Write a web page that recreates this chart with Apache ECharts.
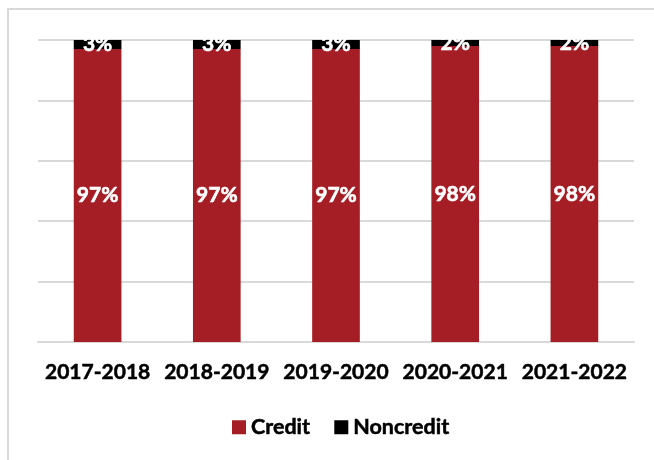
<!DOCTYPE html>
<html>
<head>
<meta charset="utf-8">
<script src="https://cdn.jsdelivr.net/npm/echarts@6/dist/echarts.min.js"></script>
<style>
  html, body { margin: 0; padding: 0; background: #fff; }
  #chart { width: 654px; height: 460px; }
</style>
</head>
<body>
<div id="chart"></div>
<script>
// Share of enrollment by program type, per academic year
const years = ['2017-2018', '2018-2019', '2019-2020', '2020-2021', '2021-2022'];
const credit = [97, 97, 97, 98, 98];
const noncredit = [3, 3, 3, 2, 2];

const FONT = 'Lato';
const RED = '#A61E25';

const chart = echarts.init(document.getElementById('chart'), null, { renderer: 'canvas' });

// a thin same-colour outline gives the bold face a little extra weight
const labelStyle = {
  show: true,
  position: 'inside',
  color: '#fff',
  fontFamily: FONT,
  fontWeight: 'bold',
  fontSize: 21,
  textBorderColor: '#fff',
  textBorderWidth: 0.6,
  formatter: p => p.value + '%'
};

chart.setOption({
  animation: false,
  backgroundColor: '#fff',
  graphic: [{
    type: 'rect',
    shape: { x: 8, y: 9, width: 700, height: 520 },
    style: { fill: 'none', stroke: '#d9d9d9', lineWidth: 2 },
    silent: true,
    z: -1
  }],
  grid: { left: 38, right: 20, top: 40, bottom: 118 },
  legend: {
    top: 411,
    left: 227,
    itemWidth: 14,
    itemHeight: 14,
    itemGap: 24,
    icon: 'rect',
    textStyle: {
      fontFamily: FONT, fontWeight: 'bold', fontSize: 21.5, color: '#000',
      textBorderColor: '#000', textBorderWidth: 0.5
    },
    data: ['Credit', 'Noncredit']
  },
  xAxis: {
    type: 'category',
    data: years,
    axisLine: { lineStyle: { color: '#d9d9d9', width: 2 } },
    axisTick: { show: false },
    axisLabel: {
      interval: 0, fontFamily: FONT, fontWeight: 'bold', fontSize: 21, color: '#000', margin: 20,
      textBorderColor: '#000', textBorderWidth: 0.5
    }
  },
  yAxis: {
    type: 'value',
    min: 0,
    max: 100,
    interval: 20,
    axisLabel: { show: false },
    axisLine: { show: false },
    axisTick: { show: false },
    splitLine: { lineStyle: { color: '#d9d9d9', width: 2 } }
  },
  series: [
    {
      name: 'Credit',
      type: 'bar',
      stack: 'total',
      barWidth: '40%',
      data: credit,
      itemStyle: { color: RED },
      label: labelStyle
    },
    {
      name: 'Noncredit',
      type: 'bar',
      stack: 'total',
      barWidth: '40%',
      data: noncredit,
      itemStyle: { color: '#000' },
      label: labelStyle
    }
  ]
});
</script>
</body>
</html>
